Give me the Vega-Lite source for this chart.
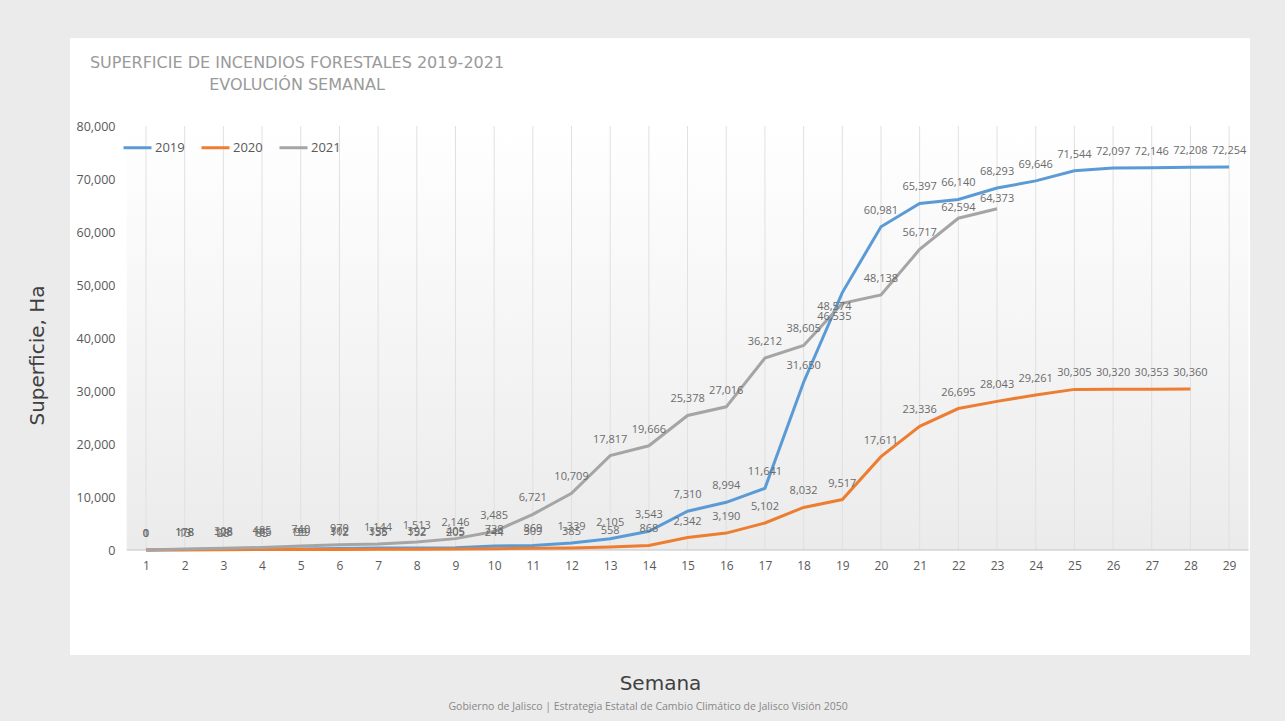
{
  "$schema": "https://vega.github.io/schema/vega-lite/v6.json",
  "autosize": {"type": "none"},
  "width": 1180,
  "height": 617,
  "padding": {"left": 70, "top": 38, "right": 35, "bottom": 66},
  "background": "#ebebeb",
  "config": {"view": {"fill": "#ffffff", "stroke": null}, "font": "Open Sans"},
  "title": {
    "text": ["SUPERFICIE DE INCENDIOS FORESTALES 2019-2021", "EVOLUCIÓN SEMANAL"],
    "anchor": "start", "align": "center", "dx": 270, "dy": 59,
    "fontSize": 16, "fontWeight": "normal", "color": "#9a9a9a", "lineHeight": 22, "font": "DejaVu Sans"
  },
  "data": {"values": [
    {"week": 1, "year": "2019", "value": 0}, {"week": 2, "year": "2019", "value": 118}, {"week": 3, "year": "2019", "value": 128},
    {"week": 4, "year": "2019", "value": 185}, {"week": 5, "year": "2019", "value": 199}, {"week": 6, "year": "2019", "value": 302},
    {"week": 7, "year": "2019", "value": 358}, {"week": 8, "year": "2019", "value": 392}, {"week": 9, "year": "2019", "value": 405},
    {"week": 10, "year": "2019", "value": 738}, {"week": 11, "year": "2019", "value": 869}, {"week": 12, "year": "2019", "value": 1339},
    {"week": 13, "year": "2019", "value": 2105}, {"week": 14, "year": "2019", "value": 3543}, {"week": 15, "year": "2019", "value": 7310},
    {"week": 16, "year": "2019", "value": 8994}, {"week": 17, "year": "2019", "value": 11641}, {"week": 18, "year": "2019", "value": 31650},
    {"week": 19, "year": "2019", "value": 48574}, {"week": 20, "year": "2019", "value": 60981}, {"week": 21, "year": "2019", "value": 65397},
    {"week": 22, "year": "2019", "value": 66140}, {"week": 23, "year": "2019", "value": 68293}, {"week": 24, "year": "2019", "value": 69646},
    {"week": 25, "year": "2019", "value": 71544}, {"week": 26, "year": "2019", "value": 72097}, {"week": 27, "year": "2019", "value": 72146},
    {"week": 28, "year": "2019", "value": 72208}, {"week": 29, "year": "2019", "value": 72254},
    {"week": 1, "year": "2020", "value": 0}, {"week": 2, "year": "2020", "value": 13}, {"week": 3, "year": "2020", "value": 28},
    {"week": 4, "year": "2020", "value": 85}, {"week": 5, "year": "2020", "value": 99}, {"week": 6, "year": "2020", "value": 112},
    {"week": 7, "year": "2020", "value": 135}, {"week": 8, "year": "2020", "value": 152}, {"week": 9, "year": "2020", "value": 205},
    {"week": 10, "year": "2020", "value": 244}, {"week": 11, "year": "2020", "value": 309}, {"week": 12, "year": "2020", "value": 385},
    {"week": 13, "year": "2020", "value": 558}, {"week": 14, "year": "2020", "value": 868}, {"week": 15, "year": "2020", "value": 2342},
    {"week": 16, "year": "2020", "value": 3190}, {"week": 17, "year": "2020", "value": 5102}, {"week": 18, "year": "2020", "value": 8032},
    {"week": 19, "year": "2020", "value": 9517}, {"week": 20, "year": "2020", "value": 17611}, {"week": 21, "year": "2020", "value": 23336},
    {"week": 22, "year": "2020", "value": 26695}, {"week": 23, "year": "2020", "value": 28043}, {"week": 24, "year": "2020", "value": 29261},
    {"week": 25, "year": "2020", "value": 30305}, {"week": 26, "year": "2020", "value": 30320}, {"week": 27, "year": "2020", "value": 30353},
    {"week": 28, "year": "2020", "value": 30360},
    {"week": 1, "year": "2021", "value": 1}, {"week": 2, "year": "2021", "value": 178}, {"week": 3, "year": "2021", "value": 308},
    {"week": 4, "year": "2021", "value": 485}, {"week": 5, "year": "2021", "value": 740}, {"week": 6, "year": "2021", "value": 970},
    {"week": 7, "year": "2021", "value": 1144}, {"week": 8, "year": "2021", "value": 1513}, {"week": 9, "year": "2021", "value": 2146},
    {"week": 10, "year": "2021", "value": 3485}, {"week": 11, "year": "2021", "value": 6721}, {"week": 12, "year": "2021", "value": 10709},
    {"week": 13, "year": "2021", "value": 17817}, {"week": 14, "year": "2021", "value": 19666}, {"week": 15, "year": "2021", "value": 25378},
    {"week": 16, "year": "2021", "value": 27016}, {"week": 17, "year": "2021", "value": 36212}, {"week": 18, "year": "2021", "value": 38605},
    {"week": 19, "year": "2021", "value": 46535}, {"week": 20, "year": "2021", "value": 48138}, {"week": 21, "year": "2021", "value": 56717},
    {"week": 22, "year": "2021", "value": 62594}, {"week": 23, "year": "2021", "value": 64373}
  ]},
  "encoding": {
    "x": {
      "field": "week", "type": "quantitative", "title": "Semana",
      "scale": {"domain": [-0.965, 29.54], "nice": false, "zero": false},
      "axis": {
        "values": [1,2,3,4,5,6,7,8,9,10,11,12,13,14,15,16,17,18,19,20,21,22,23,24,25,26,27,28,29],
        "format": "d", "domain": false, "ticks": false, "grid": false, "offset": -105,
        "labelPadding": 10, "labelFontSize": 12, "labelColor": "#595959",
        "titleFontSize": 20, "titleColor": "#404040", "titleFontWeight": "normal", "titleFont": "DejaVu Sans",
        "titleY": 133, "titleBaseline": "middle"
      }
    },
    "y": {
      "field": "value", "type": "quantitative", "title": "Superficie, Ha",
      "scale": {"domain": [-19811, 96604], "nice": false, "zero": false},
      "axis": {
        "values": [0, 10000, 20000, 30000, 40000, 50000, 60000, 70000, 80000],
        "format": ",.0f", "domain": false, "ticks": false, "grid": false, "offset": -50,
        "labelPadding": 5, "labelFontSize": 12.5, "labelColor": "#595959",
        "titleFontSize": 20, "titleColor": "#404040", "titleFontWeight": "normal", "titleFont": "DejaVu Sans",
        "titleX": -83, "titleY": 317, "titleBaseline": "middle", "titleAlign": "center", "titleAngle": -90
      }
    }
  },
  "layer": [
    {
      "transform": [{"filter": "datum.week === 1 && datum.year === '2019'"}],
      "mark": {"type": "rect", "fill": {"gradient": "linear", "x1": 0, "y1": 0, "x2": 0, "y2": 1,
        "stops": [{"offset": 0, "color": "#ffffff"}, {"offset": 1, "color": "#ebebeb"}]}},
      "encoding": {
        "x": {"datum": 0.5, "type": "quantitative"}, "x2": {"datum": 29.5},
        "y": {"datum": 80000, "type": "quantitative"}, "y2": {"datum": 0}
      }
    },
    {
      "transform": [{"filter": "datum.year === '2019'"}],
      "mark": {"type": "rule", "color": "#e0e0e0", "strokeWidth": 1},
      "encoding": {"y": {"datum": 0, "type": "quantitative"}, "y2": {"datum": 80000}}
    },
    {
      "transform": [{"filter": "datum.week === 1 && datum.year === '2019'"}],
      "mark": {"type": "rule", "color": "#c4c4c4", "strokeWidth": 1.2},
      "encoding": {
        "x": {"datum": 0.5, "type": "quantitative"}, "x2": {"datum": 29.5},
        "y": {"datum": 0, "type": "quantitative"}
      }
    },
    {
      "mark": {"type": "line", "strokeWidth": 3},
      "encoding": {
        "color": {
          "field": "year", "type": "nominal",
          "scale": {"domain": ["2019", "2020", "2021"], "range": ["#5B9BD5", "#ED7D31", "#A5A5A5"]},
          "legend": {"orient": "none", "legendX": 52, "legendY": 94, "direction": "horizontal", "title": null,
            "symbolType": "stroke", "symbolSize": 784, "symbolStrokeWidth": 3,
            "labelFontSize": 13, "labelColor": "#595959", "columnSpacing": 8, "labelOffset": 2}
        }
      }
    },
    {
      "transform": [{"filter": "(datum.week !== 19 || datum.year === '2020') && !(datum.year === '2021' && datum.week >= 22)"}],
      "mark": {"type": "text", "dy": -16, "fontSize": 11, "color": "#6b6b6b", "baseline": "middle"},
      "encoding": {"text": {"field": "value", "type": "quantitative", "format": ","}}
    },
    {
      "transform": [{"filter": "datum.year === '2021' && datum.week >= 22"}],
      "mark": {"type": "text", "dy": -10, "fontSize": 11, "color": "#6b6b6b", "baseline": "middle"},
      "encoding": {"text": {"field": "value", "type": "quantitative", "format": ","}}
    },
    {
      "transform": [{"filter": "datum.week === 19 && datum.year !== '2020'"}],
      "mark": {"type": "text", "dy": 14, "dx": -8, "fontSize": 11, "color": "#6b6b6b", "baseline": "middle"},
      "encoding": {"text": {"field": "value", "type": "quantitative", "format": ","}}
    },
    {
      "transform": [{"filter": "datum.week === 1 && datum.year === '2019'"}],
      "mark": {"type": "text", "fontSize": 10.5, "color": "#888888", "baseline": "middle", "clip": false},
      "encoding": {
        "x": {"datum": 13.98, "type": "quantitative"},
        "y": {"datum": -29600, "type": "quantitative"},
        "text": {"value": "Gobierno de Jalisco  |  Estrategia Estatal de Cambio Climático de Jalisco Visión 2050"}
      }
    }
  ]
}
